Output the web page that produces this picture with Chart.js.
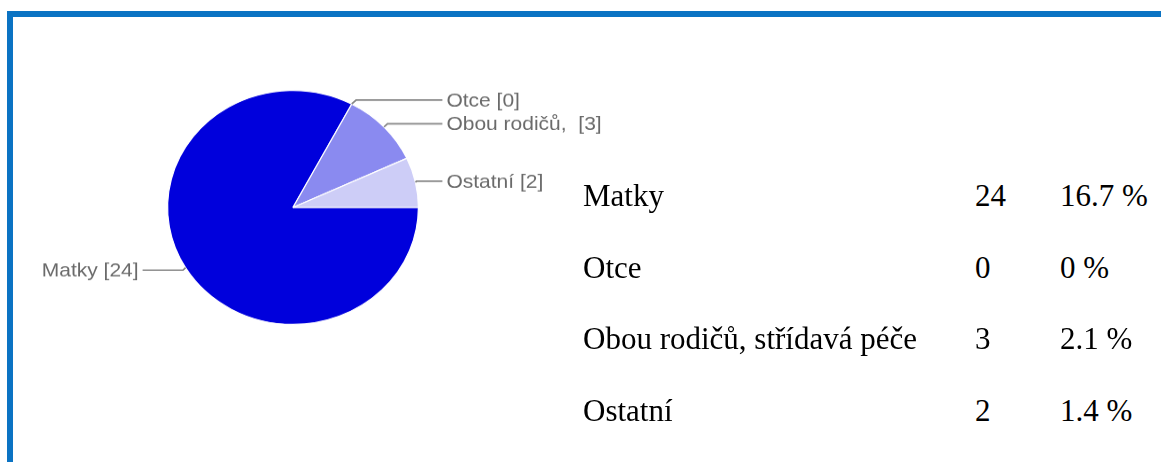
<!DOCTYPE html>
<html>
<head>
<meta charset="utf-8">
<script src="https://cdn.jsdelivr.net/npm/chart.js@4/dist/chart.umd.min.js"></script>
<style>
  html, body { margin: 0; padding: 0; background: #fff; }
  body { width: 1161px; height: 462px; position: relative; overflow: hidden; }
  #frame { position: absolute; left: 7px; top: 11px; width: 1170px; height: 470px;
           border-top: 6px solid #0B73C3; border-left: 6px solid #0B73C3; }
  #pieBox { position: absolute; left: 14px; top: 18px; width: 640px; height: 430px;
            transform: scaleY(0.933); transform-origin: 0 0; }
  #table { position: absolute; left: 0; top: 0; }
  .cell { position: absolute; font-family: "Liberation Serif", "Times New Roman", serif;
          font-size: 31px; line-height: 31px; color: #000; white-space: nowrap; }
</style>
</head>
<body>
<div id="frame"></div>
<div id="pieBox"><canvas id="pie" width="640" height="430"></canvas></div>
<div id="table"></div>
<script>
var categories = ["Matky", "Otce", "Obou rodičů, střídavá péče", "Ostatní"]
var shortNames = ["Matky", "Otce", "Obou rodičů, ", "Ostatní"]
var counts = [24, 0, 3, 2]
var percents = ["16.7 %", "0 %", "2.1 %", "1.4 %"]

// table on the right
var table = document.getElementById("table")
var colX = [583, 975, 1060]
categories.forEach(function (name, i) {
    var top = 180 + i * 71.5
    var vals = [name, String(counts[i]), percents[i]]
    vals.forEach(function (v, c) {
        var d = document.createElement("div")
        d.className = "cell"
        d.style.left = colX[c] + "px"
        d.style.top = top + "px"
        d.textContent = v
        table.appendChild(d)
    })
})

// leader-line labels next to the pie
var pieLabels = {
    id: "pieLabels",
    afterDatasetsDraw: function (chart) {
        var ctx = chart.ctx
        var meta = chart.getDatasetMeta(0)
        ctx.save()
        ctx.font = '21px "Liberation Sans", Arial, sans-serif'
        ctx.textBaseline = "middle"
        ctx.strokeStyle = "#858585"
        ctx.fillStyle = "#6a6a6a"
        ctx.lineWidth = 1.7
        meta.data.forEach(function (arc, i) {
            var p = arc.getProps(["x", "y", "startAngle", "endAngle", "outerRadius"], true)
            var mid = (p.startAngle + p.endAngle) / 2
            var r = p.outerRadius
            var ax = p.x + Math.cos(mid) * r
            var ay = p.y + Math.sin(mid) * r
            var ly = p.y + Math.sin(mid) * (r + 5)
            var right = Math.cos(mid) >= 0
            var dir = right ? 1 : -1
            var ex = ax + dir * Math.abs(ly - ay)
            var tx = right ? p.x + r + 28 : p.x - r - 29
            ctx.beginPath()
            ctx.moveTo(ax, ay)
            ctx.lineTo(ex, ly)
            ctx.lineTo(tx - dir * 4, ly)
            ctx.stroke()
            ctx.textAlign = right ? "left" : "right"
            ctx.fillText(shortNames[i] + " [" + counts[i] + "]", tx, ly + 1)
        })
        ctx.restore()
    }
}

var ctx1 = document.getElementById("pie").getContext("2d")
var graph = new Chart(ctx1, {
    type: "pie",
    data: {
        labels: categories,
        datasets: [{
            data: counts,
            backgroundColor: ["#0000DC", "#8A8AF0", "#8A8AF0", "#CDCDF7"],
            borderColor: "#ffffff",
            borderWidth: 1.2
        }]
    },
    options: {
        responsive: false,
        animation: false,
        events: [],
        rotation: 90,
        layout: { padding: { left: 153, right: 235, top: 77, bottom: 101 } },
        plugins: {
            legend: { display: false },
            tooltip: { enabled: false }
        }
    },
    plugins: [pieLabels]
})
</script>
</body>
</html>
